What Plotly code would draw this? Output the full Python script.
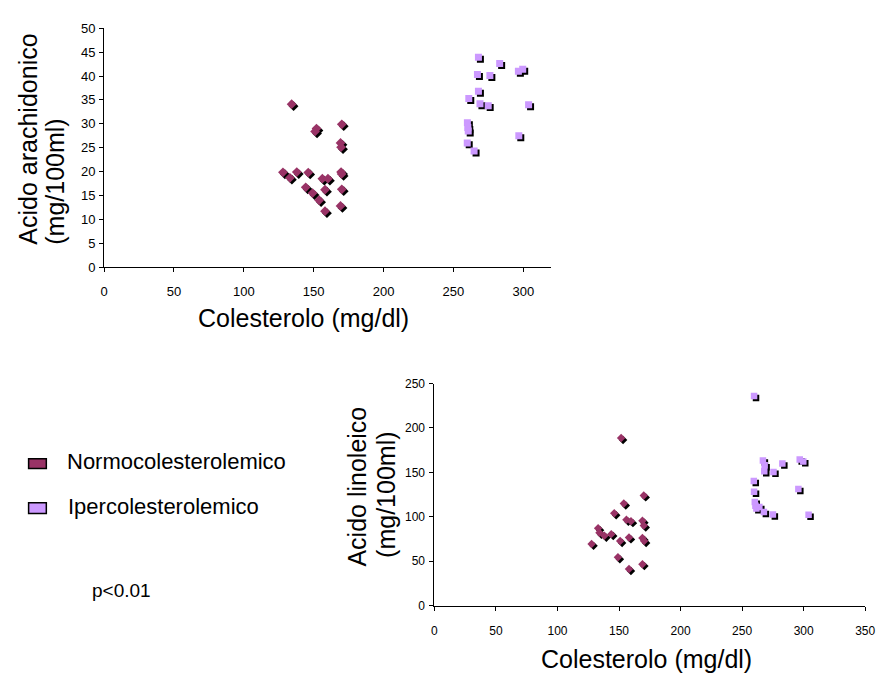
import plotly.graph_objects as go

W, H = 888, 682

# ---------------- data ----------------
# Top chart: Colesterolo vs Acido arachidonico
normo_chol_ara = [134.2, 151.0, 152.0, 170.1, 169.2, 169.6, 128.0, 133.0, 137.9, 146.1, 156.2,
                  160.2, 169.6, 170.0, 144.3, 149.2, 158.1, 170.1, 153.9, 158.1, 169.2]
normo_ara = [34.1, 28.4, 29.0, 29.9, 26.0, 25.1, 19.85, 18.7, 19.9, 19.8, 18.5,
             18.5, 19.9, 19.5, 16.7, 15.5, 16.2, 16.3, 14.0, 11.7, 12.8]
iper_chol_ara = [267.9, 283.1, 296.5, 299.6, 267.2, 276.1, 267.9, 261.0, 269.0, 274.9, 303.8,
                 260.0, 260.3, 260.6, 296.8, 259.9, 264.8]
iper_ara = [43.9, 42.6, 41.0, 41.4, 40.3, 40.1, 36.8, 35.3, 34.2, 33.8, 34.0,
            30.2, 29.2, 28.5, 27.5, 26.0, 24.3]

# Bottom chart: Colesterolo vs Acido linoleico
normo_chol_lin = [151.7, 170.1, 153.9, 146.1, 156.0, 159.7, 169.0, 170.1, 133.0, 134.1,
                  138.1, 143.7, 150.9, 158.1, 169.0, 170.4, 127.7, 149.1, 158.1, 169.0]
normo_lin = [188.7, 124.0, 114.9, 103.9, 96.5, 95.0, 95.4, 90.0, 87.0, 81.9,
             78.6, 80.4, 72.7, 76.7, 76.0, 72.7, 69.4, 54.3, 41.1, 46.6]
iper_chol_lin = [259.7, 266.9, 268.3, 268.0, 282.7, 296.8, 299.7, 275.5, 259.5, 259.7,
                 295.7, 260.3, 260.8, 261.6, 264.0, 267.7, 275.0, 304.0]
iper_lin = [236.0, 163.4, 157.9, 151.2, 160.0, 164.5, 162.3, 150.5, 140.2, 128.1,
            131.1, 116.7, 112.3, 109.4, 110.9, 105.4, 102.4, 102.1]

x_title = "Colesterolo (mg/dl)"
y_title_top = ["Acido arachidonico", "(mg/100ml)"]
y_title_bot = ["Acido linoleico", "(mg/100ml)"]
legend_names = ["Normocolesterolemico", "Ipercolesterolemico"]
p_text = "p<0.01"

top_x_range = [0, 320]
top_y_range = [0, 50]
bot_x_range = [0, 350]
bot_y_range = [0, 250]

# ---------------- style ----------------
C_NORMO = "#993366"
C_IPER = "#CC99FF"
FONT = "Liberation Sans, Arial, sans-serif"
TICKFONT_TOP = dict(family="Liberation Sans, Arial", size=13, color="black")
TICKFONT_BOT = dict(family="Liberation Sans, Arial", size=12, color="black")

# pixel layout of plot areas
top_px = dict(x0=101.7, x1=556.0, y0=21.7, y1=266.0)
bot_px = dict(x0=437.3, x1=875.0, y0=385.0, y1=612.0)


def xdom(p):
    return [p["x0"] / W, p["x1"] / W]


def ydom(p):
    return [1 - p["y1"] / H, 1 - p["y0"] / H]


def shifted(rng, p, axis, d=2.0):
    if axis == "x":
        u = (rng[1] - rng[0]) / (p["x1"] - p["x0"])
        return [rng[0] - d * u, rng[1] - d * u]
    u = (rng[1] - rng[0]) / (p["y1"] - p["y0"])
    return [rng[0] + d * u, rng[1] + d * u]


fig = go.Figure()

# shadows (base axes, shifted ranges, invisible)
fig.add_trace(go.Scatter(x=normo_chol_ara, y=normo_ara, mode="markers", xaxis="x", yaxis="y",
                         marker=dict(symbol="diamond", size=7.5, color="black"), hoverinfo="skip"))
fig.add_trace(go.Scatter(x=iper_chol_ara, y=iper_ara, mode="markers", xaxis="x", yaxis="y",
                         marker=dict(symbol="square", size=7, color="black"), hoverinfo="skip"))
fig.add_trace(go.Scatter(x=normo_chol_lin, y=normo_lin, mode="markers", xaxis="x2", yaxis="y2",
                         marker=dict(symbol="diamond", size=6.5, color="black"), hoverinfo="skip"))
fig.add_trace(go.Scatter(x=iper_chol_lin, y=iper_lin, mode="markers", xaxis="x2", yaxis="y2",
                         marker=dict(symbol="square", size=6.5, color="black"), hoverinfo="skip"))

# main markers (overlay axes, visible)
fig.add_trace(go.Scatter(x=normo_chol_ara, y=normo_ara, mode="markers", xaxis="x3", yaxis="y3",
                         name=legend_names[0], marker=dict(symbol="diamond", size=7.5, color=C_NORMO)))
fig.add_trace(go.Scatter(x=iper_chol_ara, y=iper_ara, mode="markers", xaxis="x3", yaxis="y3",
                         name=legend_names[1], marker=dict(symbol="square", size=7, color=C_IPER)))
fig.add_trace(go.Scatter(x=normo_chol_lin, y=normo_lin, mode="markers", xaxis="x4", yaxis="y4",
                         name=legend_names[0], marker=dict(symbol="diamond", size=6.5, color=C_NORMO)))
fig.add_trace(go.Scatter(x=iper_chol_lin, y=iper_lin, mode="markers", xaxis="x4", yaxis="y4",
                         name=legend_names[1], marker=dict(symbol="square", size=6.5, color=C_IPER)))

hidden = dict(visible=False, showgrid=False, zeroline=False, fixedrange=True)
shown = dict(showgrid=False, zeroline=False, showline=True, linecolor="black", linewidth=1,
             ticks="outside", ticklen=4, tickcolor="black", tickwidth=1)

fig.update_layout(
    width=W, height=H, showlegend=False,
    margin=dict(l=0, r=0, t=0, b=0),
    paper_bgcolor="white", plot_bgcolor="rgba(0,0,0,0)",
    font=dict(family=FONT, color="black"),
    xaxis=dict(domain=xdom(top_px), range=shifted(top_x_range, top_px, "x"), anchor="y", **hidden),
    yaxis=dict(domain=ydom(top_px), range=shifted(top_y_range, top_px, "y"), anchor="x", **hidden),
    xaxis2=dict(domain=xdom(bot_px), range=shifted(bot_x_range, bot_px, "x"), anchor="y2", **hidden),
    yaxis2=dict(domain=ydom(bot_px), range=shifted(bot_y_range, bot_px, "y"), anchor="x2", **hidden),
    xaxis3=dict(overlaying="x", anchor="y3", range=top_x_range, tick0=0, dtick=50, side="bottom",
                ticklabelstandoff=8, tickfont=TICKFONT_TOP, **shown),
    yaxis3=dict(overlaying="y", anchor="x3", range=top_y_range, tick0=0, dtick=5, side="left",
                ticklabelstandoff=1, tickfont=TICKFONT_TOP, **shown),
    xaxis4=dict(overlaying="x2", anchor="y4", range=bot_x_range, tick0=0, dtick=50, side="bottom",
                ticklabelstandoff=10, tickfont=TICKFONT_BOT, **shown),
    yaxis4=dict(overlaying="y2", anchor="x4", range=bot_y_range, tick0=0, dtick=50, side="left",
                ticklabelstandoff=2, tickfont=TICKFONT_BOT, **shown),
)


def ann(text, x, y, size, angle=0, xanchor="center"):
    fig.add_annotation(text=text, x=x / W, y=1 - y / H, xref="paper", yref="paper",
                       showarrow=False, textangle=angle, xanchor=xanchor, yanchor="middle",
                       font=dict(family=FONT, size=size, color="black"))


ann(x_title, 304, 318, 25)
ann(x_title, 653, 667, 25)
ann(y_title_top[0], 24, 135, 25, angle=-90)
ann(y_title_top[1], 51, 178.5, 25, angle=-90)
ann(y_title_bot[0], 359, 490, 25, angle=-90)
ann(y_title_bot[1], 388, 499, 25, angle=-90)

# legend
ann(legend_names[0], 62, 465, 22, xanchor="left")
ann(legend_names[1], 63, 511, 22, xanchor="left")
for (yy0, yy1), col in zip([(462, 472), (507, 518)], [C_NORMO, C_IPER]):
    fig.add_shape(type="rect", xref="paper", yref="paper",
                  x0=25 / W, x1=43 / W, y0=1 - yy1 / H, y1=1 - yy0 / H,
                  fillcolor=col, line=dict(color="black", width=1.5))
ann(p_text, 87, 597, 19, xanchor="left")

fig.write_html("out.html", config={"displayModeBar": False},
               post_script="document.body.style.margin='0px';document.body.style.overflow='hidden';")
